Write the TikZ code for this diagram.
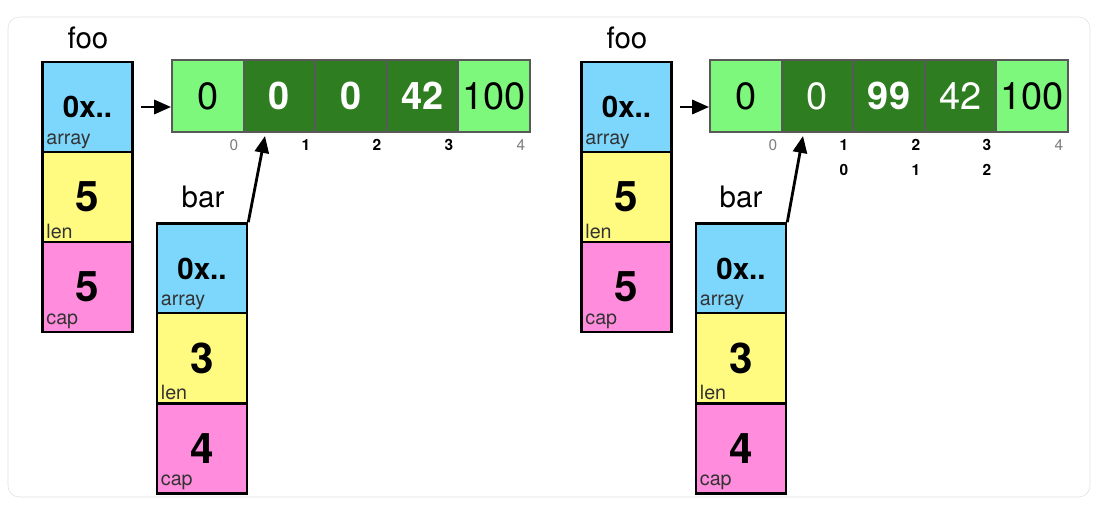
\documentclass[tikz,border=0pt]{standalone}
\usepackage{fontspec}
\setmainfont{TeX Gyre Heros}
\usetikzlibrary{arrows.meta}

\definecolor{ptrblue}{RGB}{125,215,252}
\definecolor{lenyellow}{RGB}{255,250,128}
\definecolor{cappink}{RGB}{255,140,220}
\definecolor{lightgreen}{RGB}{125,248,125}
\definecolor{darkgreen}{RGB}{46,125,32}

\tikzset{
  slot/.style={draw=black,line width=1.8pt,minimum width=2.25cm,
    minimum height=2.25cm,inner sep=0pt,font=\fontsize{30}{30}\selectfont\bfseries},
  cell/.style={draw=black!65,line width=1.3pt,fill=lightgreen,minimum width=1.79cm,
    minimum height=1.8cm,inner sep=0pt,font=\fontsize{27}{27}\selectfont},
  darkcell/.style={cell,fill=darkgreen,text=white},
  tag/.style={anchor=south west,inner sep=0pt,xshift=3.5pt,yshift=3pt,
    text=black!80,font=\fontsize{14}{14}\selectfont},
  idx/.style={font=\fontsize{11}{11}\selectfont\bfseries},
  idxgray/.style={font=\fontsize{11}{11}\selectfont,text=black!50},
  varname/.style={font=\fontsize{21}{21}\selectfont},
  ptr/.style={-{Triangle[length=12pt,width=10pt]},line width=2pt}
}

\begin{document}
\begin{tikzpicture}[x=0.025cm,y=-0.025cm]
  \useasboundingbox (0,0) rectangle (1106,508);
  \draw[black!12,fill=white,rounded corners=8pt] (8,17) rectangle (1090,497);

  % left: foo and the backing array
  \node[varname](fooL) at (88,38) {foo};
  \node[slot,fill=ptrblue](fooLa) at (87.5,107) {\fontsize{21}{21}\selectfont 0x..};
  \node[slot,fill=lenyellow](fooLl) at (87.5,197) {5};
  \node[slot,fill=cappink](fooLc) at (87.5,287) {5};
  \node[tag](fooLat) at (fooLa.south west) {array};
  \node[tag](fooLlt) at (fooLl.south west) {len};
  \node[tag](fooLct) at (fooLc.south west) {cap};

  \node[cell](aL0) at (207.8,96) {0};
  \node[darkcell](aL1) at (279.4,96) {\bfseries 0};
  \node[darkcell](aL2) at (351,96) {\bfseries 0};
  \node[darkcell](aL3) at (422.6,96) {\bfseries 42};
  \node[cell](aL4) at (494.2,96) {100};

  \node[idxgray](iL0) at (234,145) {0};
  \node[idx](iL1) at (306,145) {1};
  \node[idx](iL2) at (377,145) {2};
  \node[idx](iL3) at (449,145) {3};
  \node[idxgray](iL4) at (521,145) {4};

  \draw[ptr] ([xshift=5pt]fooLa.east) -- (fooLa.east -| aL0.west);

  % left: bar
  \node[varname](barL) at (203,197) {bar};
  \node[slot,fill=ptrblue](barLa) at (202,268.5) {\fontsize{21}{21}\selectfont 0x..};
  \node[slot,fill=lenyellow](barLl) at (202,358) {3};
  \node[slot,fill=cappink](barLc) at (202,448.5) {4};
  \node[tag](barLat) at (barLa.south west) {array};
  \node[tag](barLlt) at (barLl.south west) {len};
  \node[tag](barLct) at (barLc.south west) {cap};
  \coordinate (tipL) at (265,136);
  \draw[ptr] (barLa.north east) -- (tipL);

  % right: foo after the write through bar
  \node[varname](fooR) at (627,38) {foo};
  \node[slot,fill=ptrblue](fooRa) at (626.5,107) {\fontsize{21}{21}\selectfont 0x..};
  \node[slot,fill=lenyellow](fooRl) at (626.5,197) {5};
  \node[slot,fill=cappink](fooRc) at (626.5,287) {5};
  \node[tag](fooRat) at (fooRa.south west) {array};
  \node[tag](fooRlt) at (fooRl.south west) {len};
  \node[tag](fooRct) at (fooRc.south west) {cap};

  \node[cell](aR0) at (745.8,96) {0};
  \node[darkcell](aR1) at (817.4,96) {0};
  \node[darkcell](aR2) at (889,96) {\bfseries 99};
  \node[darkcell](aR3) at (960.6,96) {42};
  \node[cell](aR4) at (1032.2,96) {100};

  \node[idxgray](iR0) at (773,145) {0};
  \node[idx](iR1) at (844,145) {1};
  \node[idx](iR2) at (916,145) {2};
  \node[idx](iR3) at (987,145) {3};
  \node[idxgray](iR4) at (1059,145) {4};
  \node[idx](jR0) at (844,170) {0};
  \node[idx](jR1) at (916,170) {1};
  \node[idx](jR2) at (987,170) {2};

  \draw[ptr] ([xshift=5pt]fooRa.east) -- (fooRa.east -| aR0.west);

  % right: bar
  \node[varname](barR) at (741,197) {bar};
  \node[slot,fill=ptrblue](barRa) at (741,268.5) {\fontsize{21}{21}\selectfont 0x..};
  \node[slot,fill=lenyellow](barRl) at (741,358) {3};
  \node[slot,fill=cappink](barRc) at (741,448.5) {4};
  \node[tag](barRat) at (barRa.south west) {array};
  \node[tag](barRlt) at (barRl.south west) {len};
  \node[tag](barRct) at (barRc.south west) {cap};
  \coordinate (tipR) at (803,136);
  \draw[ptr] (barRa.north east) -- (tipR);
\end{tikzpicture}
\end{document}
